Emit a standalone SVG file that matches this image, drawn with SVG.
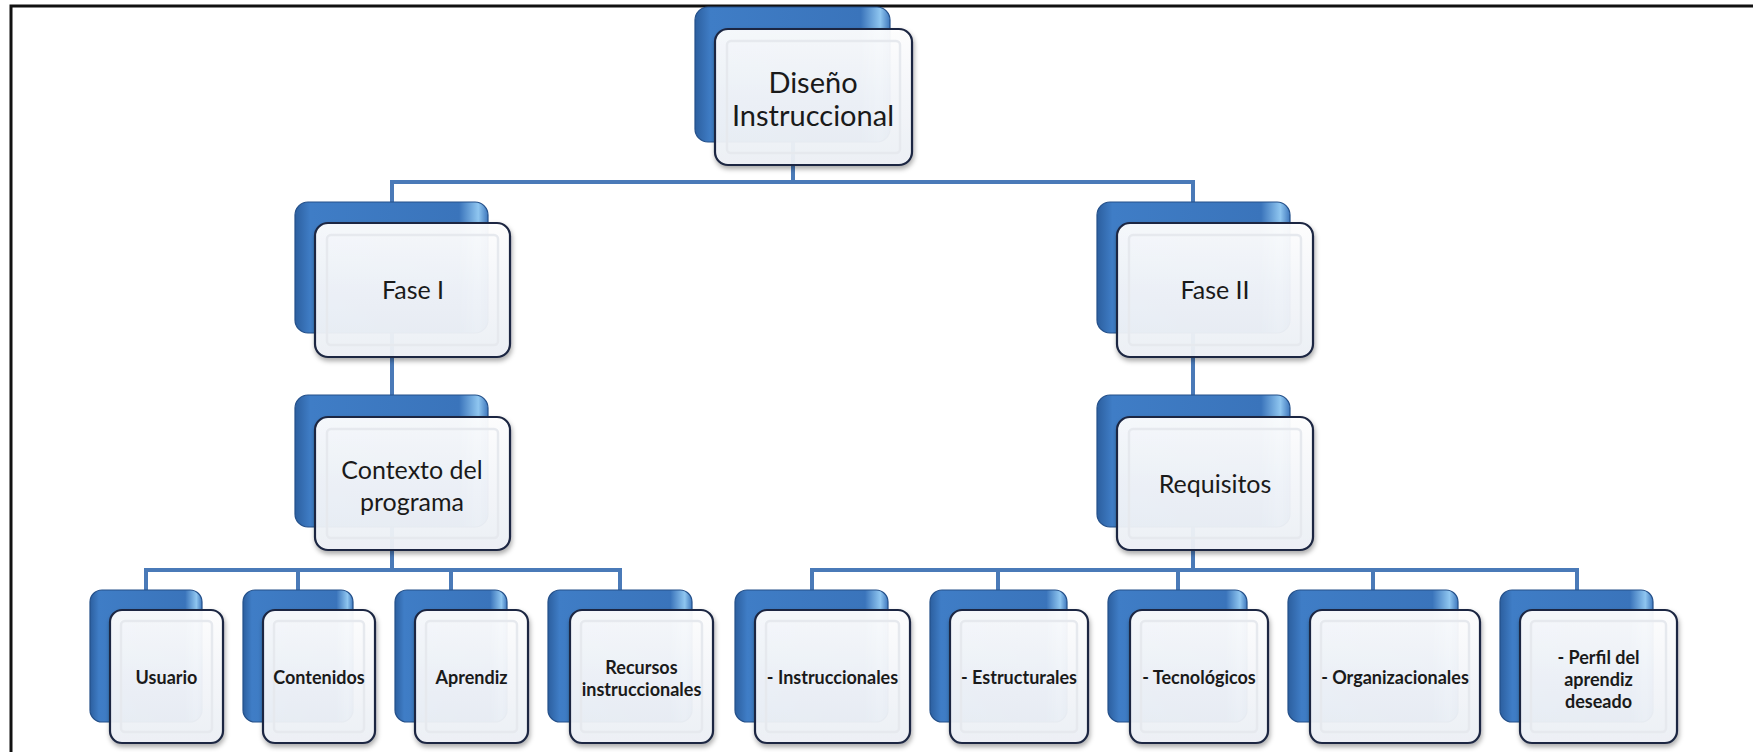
<svg xmlns="http://www.w3.org/2000/svg" width="1753" height="752" viewBox="0 0 1753 752">
<defs>
<linearGradient id="gBack" x1="0" y1="0" x2="1" y2="0">
<stop offset="0" stop-color="#2c5f9f"/>
<stop offset="0.08" stop-color="#3f7dc6"/>
<stop offset="0.85" stop-color="#3a74bb"/>
<stop offset="0.95" stop-color="#8fc6f0"/>
<stop offset="1" stop-color="#3f78bd"/>
</linearGradient>
<linearGradient id="gFront" x1="0" y1="0" x2="0" y2="1">
<stop offset="0" stop-color="#ffffff"/>
<stop offset="0.5" stop-color="#f5f7fb"/>
<stop offset="1" stop-color="#eef1f6"/>
</linearGradient>
<filter id="sh" x="-10%" y="-10%" width="125%" height="125%">
<feDropShadow dx="1" dy="3" stdDeviation="2.5" flood-color="#000" flood-opacity="0.35"/>
</filter>
</defs>
<style>
.back{fill:url(#gBack);stroke:#24508a;stroke-width:1.2}
.front{fill:url(#gFront);fill-opacity:0.94;stroke:#1c2742;stroke-width:2.2;filter:url(#sh)}
.bev{fill:none;stroke:#e6e9ee;stroke-width:2.5}
.conn{stroke:#4a7ab8;stroke-width:4;fill:none}
.t1{font-family:Lato,"Liberation Sans",sans-serif;font-size:29px;fill:#1a1a1a;text-anchor:middle}
.t2{font-family:Lato,"Liberation Sans",sans-serif;font-size:25px;fill:#1a1a1a;text-anchor:middle}
.t3{font-family:Lato,"Liberation Sans",sans-serif;font-size:18px;font-weight:bold;fill:#1a1a1a;text-anchor:middle}
.frame{stroke:#111;stroke-width:3;fill:none}
</style>
<rect width="1753" height="752" fill="#ffffff"/>
<path class="frame" d="M11 752 V6 H1753"/>
<g id="connectors">
<path class="conn" d="M793 142 V182 M392 182 H1193 M392 180 V202 M1193 180 V202"/>
<path class="conn" d="M392 333 V395 M1193 333 V395"/>
<path class="conn" d="M392 527 V570 M145 570 H620 M146 568 V590 M298 568 V590 M451 568 V590 M620 568 V590"/>
<path class="conn" d="M1193 527 V570 M812 570 H1577 M812 568 V590 M998 568 V590 M1178 568 V590 M1373 568 V590 M1577 568 V590"/>
</g>
<g id="n-diseno">
<rect class="back" x="695" y="7" width="195" height="135" rx="13"/>
<rect class="front" x="715" y="29" width="197" height="136" rx="13"/>
<rect class="bev" x="727" y="41" width="173" height="112" rx="4"/>
<text class="t1" x="813" y="93">Diseño</text>
<text class="t1" x="813" y="126">Instruccional</text>
</g>
<g id="n-fase1">
<rect class="back" x="295" y="202" width="193" height="131" rx="13"/>
<rect class="front" x="315" y="223" width="195" height="134" rx="13"/>
<rect class="bev" x="327" y="235" width="171" height="110" rx="4"/>
<text class="t2" x="413" y="299">Fase I</text>
</g>
<g id="n-fase2">
<rect class="back" x="1097" y="202" width="193" height="131" rx="13"/>
<rect class="front" x="1117" y="223" width="196" height="134" rx="13"/>
<rect class="bev" x="1129" y="235" width="172" height="110" rx="4"/>
<text class="t2" x="1215" y="299">Fase II</text>
</g>
<g id="n-contexto">
<rect class="back" x="295" y="395" width="193" height="132" rx="13"/>
<rect class="front" x="315" y="417" width="195" height="133" rx="13"/>
<rect class="bev" x="327" y="429" width="171" height="109" rx="4"/>
<text class="t2" x="412" y="479">Contexto del</text>
<text class="t2" x="412" y="511">programa</text>
</g>
<g id="n-requisitos">
<rect class="back" x="1097" y="395" width="193" height="132" rx="13"/>
<rect class="front" x="1117" y="417" width="196" height="133" rx="13"/>
<rect class="bev" x="1129" y="429" width="172" height="109" rx="4"/>
<text class="t2" x="1215" y="493">Requisitos</text>
</g>
<g id="n-usuario">
<rect class="back" x="90" y="590" width="112" height="132" rx="12"/>
<rect class="front" x="110" y="610" width="113" height="133" rx="12"/>
<rect class="bev" x="121" y="621" width="91" height="111" rx="4"/>
<text class="t3" x="166.5" y="684">Usuario</text>
</g>
<g id="n-contenidos">
<rect class="back" x="243" y="590" width="110" height="132" rx="12"/>
<rect class="front" x="263" y="610" width="112" height="133" rx="12"/>
<rect class="bev" x="274" y="621" width="90" height="111" rx="4"/>
<text class="t3" x="319" y="684">Contenidos</text>
</g>
<g id="n-aprendiz">
<rect class="back" x="395" y="590" width="112" height="132" rx="12"/>
<rect class="front" x="415" y="610" width="113" height="133" rx="12"/>
<rect class="bev" x="426" y="621" width="91" height="111" rx="4"/>
<text class="t3" x="471.5" y="684">Aprendiz</text>
</g>
<g id="n-recursos">
<rect class="back" x="548" y="590" width="144" height="132" rx="12"/>
<rect class="front" x="570" y="610" width="143" height="133" rx="12"/>
<rect class="bev" x="581" y="621" width="121" height="111" rx="4"/>
<text class="t3" x="641.5" y="674">Recursos</text>
<text class="t3" x="641.5" y="696">instruccionales</text>
</g>
<g id="n-instruccionales">
<rect class="back" x="735" y="590" width="153" height="132" rx="12"/>
<rect class="front" x="755" y="610" width="155" height="133" rx="12"/>
<rect class="bev" x="766" y="621" width="133" height="111" rx="4"/>
<text class="t3" x="832.5" y="684">- Instruccionales</text>
</g>
<g id="n-estructurales">
<rect class="back" x="930" y="590" width="137" height="132" rx="12"/>
<rect class="front" x="950" y="610" width="138" height="133" rx="12"/>
<rect class="bev" x="961" y="621" width="116" height="111" rx="4"/>
<text class="t3" x="1019" y="684">- Estructurales</text>
</g>
<g id="n-tecnologicos">
<rect class="back" x="1108" y="590" width="139" height="132" rx="12"/>
<rect class="front" x="1130" y="610" width="138" height="133" rx="12"/>
<rect class="bev" x="1141" y="621" width="116" height="111" rx="4"/>
<text class="t3" x="1199" y="684">- Tecnológicos</text>
</g>
<g id="n-organizacionales">
<rect class="back" x="1288" y="590" width="170" height="132" rx="12"/>
<rect class="front" x="1310" y="610" width="170" height="133" rx="12"/>
<rect class="bev" x="1321" y="621" width="148" height="111" rx="4"/>
<text class="t3" x="1395" y="684">- Organizacionales</text>
</g>
<g id="n-perfil">
<rect class="back" x="1500" y="590" width="153" height="132" rx="12"/>
<rect class="front" x="1520" y="610" width="157" height="133" rx="12"/>
<rect class="bev" x="1531" y="621" width="135" height="111" rx="4"/>
<text class="t3" x="1598.5" y="664">- Perfil del</text>
<text class="t3" x="1598.5" y="686">aprendiz</text>
<text class="t3" x="1598.5" y="708">deseado</text>
</g>
</svg>
